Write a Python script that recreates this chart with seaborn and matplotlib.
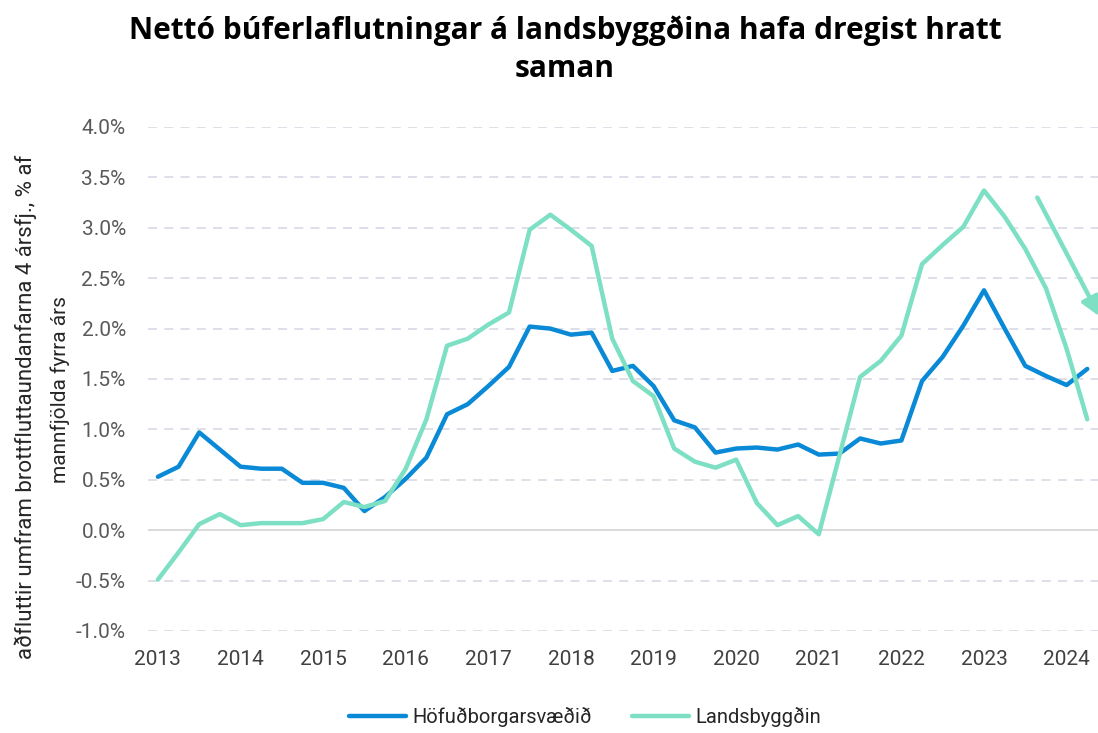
import pandas as pd
import matplotlib.pyplot as plt
import seaborn as sns

#  Data 
# Quarterly values, 2013 Q1 to 2024 Q2 (46 quarters), % of population
years = [str(y) for y in range(2013, 2025)]
hofudborg = [
    0.53, 0.63, 0.97, 0.80, 0.63, 0.61, 0.61, 0.47, 0.47, 0.42, 0.19, 0.33,
    0.51, 0.72, 1.15, 1.25, 1.43, 1.62, 2.02, 2.00, 1.94, 1.96, 1.58, 1.63,
    1.43, 1.09, 1.02, 0.77, 0.81, 0.82, 0.80, 0.85, 0.75, 0.76, 0.91, 0.86,
    0.89, 1.48, 1.72, 2.03, 2.38, 2.00, 1.63, 1.53, 1.44, 1.60,
]
landsbyggd = [
    -0.49, -0.22, 0.06, 0.16, 0.05, 0.07, 0.07, 0.07, 0.11, 0.28, 0.23, 0.29,
    0.61, 1.10, 1.83, 1.90, 2.04, 2.16, 2.98, 3.13, 2.98, 2.82, 1.90, 1.48,
    1.33, 0.81, 0.68, 0.62, 0.70, 0.27, 0.05, 0.14, -0.04, 0.74, 1.52, 1.68,
    1.93, 2.64, 2.83, 3.01, 3.37, 3.11, 2.79, 2.40, 1.80, 1.10,
]
series_names = ["Höfuðborgarsvæðið", "Landsbyggðin"]
y_ticks = [-1.0, -0.5, 0.0, 0.5, 1.0, 1.5, 2.0, 2.5, 3.0, 3.5, 4.0]
# arrow drawn beside the last quarters (start -> end, quarter index / %)
arrow_start = (42.58, 3.30)
arrow_end = (45.6, 2.12)

BLUE = "#0A8AD6"
GREEN = "#7DDFC3"

sns.set_style("white")
plt.rcParams["font.family"] = ["Roboto", "DejaVu Sans"]

n = len(hofudborg)
df = pd.DataFrame({
    "q": list(range(n)) * 2,
    "value": hofudborg + landsbyggd,
    "series": [series_names[0]] * n + [series_names[1]] * n,
})

fig = plt.figure(figsize=(10.98, 7.33), dpi=100)
ax = fig.add_axes([148 / 1098, 1 - 631 / 733, 950 / 1098, 504 / 733])

# gridlines: dashed, with a solid zero line
for t in y_ticks:
    if t == 0:
        ax.axhline(t, color="#d9d9d9", lw=1.4, zorder=1)
    else:
        ax.axhline(t, color="#dcdce8", lw=1.3, ls=(0, (5, 4)), zorder=1)

sns.lineplot(
    data=df, x="q", y="value", hue="series",
    palette=[BLUE, GREEN], hue_order=series_names,
    linewidth=3.2, ax=ax, zorder=3,
)

ax.annotate(
    "", xy=arrow_end, xytext=arrow_start,
    arrowprops=dict(arrowstyle="-|>", color=GREEN, lw=3.2, mutation_scale=28,
                    shrinkA=0, shrinkB=0),
    annotation_clip=False, zorder=4,
)

ax.set_xlim(-0.48, 45.52)
ax.set_ylim(-1.0, 4.0)
ax.set_yticks(y_ticks)
ax.set_yticklabels([f"{t:.1f}%" for t in y_ticks])
ax.set_xticks(list(range(0, n, 4)))
ax.set_xticklabels(years)
ax.tick_params(axis="y", length=0, pad=16, labelsize=15, labelcolor="#595959")
ax.tick_params(axis="x", length=0, pad=14, labelsize=15, labelcolor="#404040")
ax.set_xlabel("")
ax.set_ylabel("")
sns.despine(ax=ax, left=True, bottom=True)

# two-line axis title, written as two texts
fig.text(26 / 1098, 1 - 407 / 733,
         "aðfluttir umfram brottfluttaundanfarna 4 ársfj., % af",
         rotation=90, ha="center", va="center", fontsize=16, color="#262626")
fig.text(60 / 1098, 1 - 390 / 733, "mannfjölda fyrra árs",
         rotation=90, ha="center", va="center", fontsize=15, color="#262626")

fig.text(
    565 / 1098, 1 - 50 / 733,
    "Nettó búferlaflutningar á landsbyggðina hafa dregist hratt\nsaman",
    ha="center", va="center", fontsize=21.5, fontweight="bold", color="black",
    family=["Open Sans", "DejaVu Sans"], linespacing=1.35,
)

handles, labels = ax.get_legend_handles_labels()
ax.get_legend().remove()
fig.legend(
    handles, labels, loc="center", ncol=2, frameon=False,
    bbox_to_anchor=(585 / 1098, 1 - 717 / 733), bbox_transform=fig.transFigure,
    fontsize=14.5, handlelength=2.85, handletextpad=0.3, columnspacing=2.0,
    labelcolor="#262626",
)

plt.savefig("out.png", dpi=100)
plt.close()
